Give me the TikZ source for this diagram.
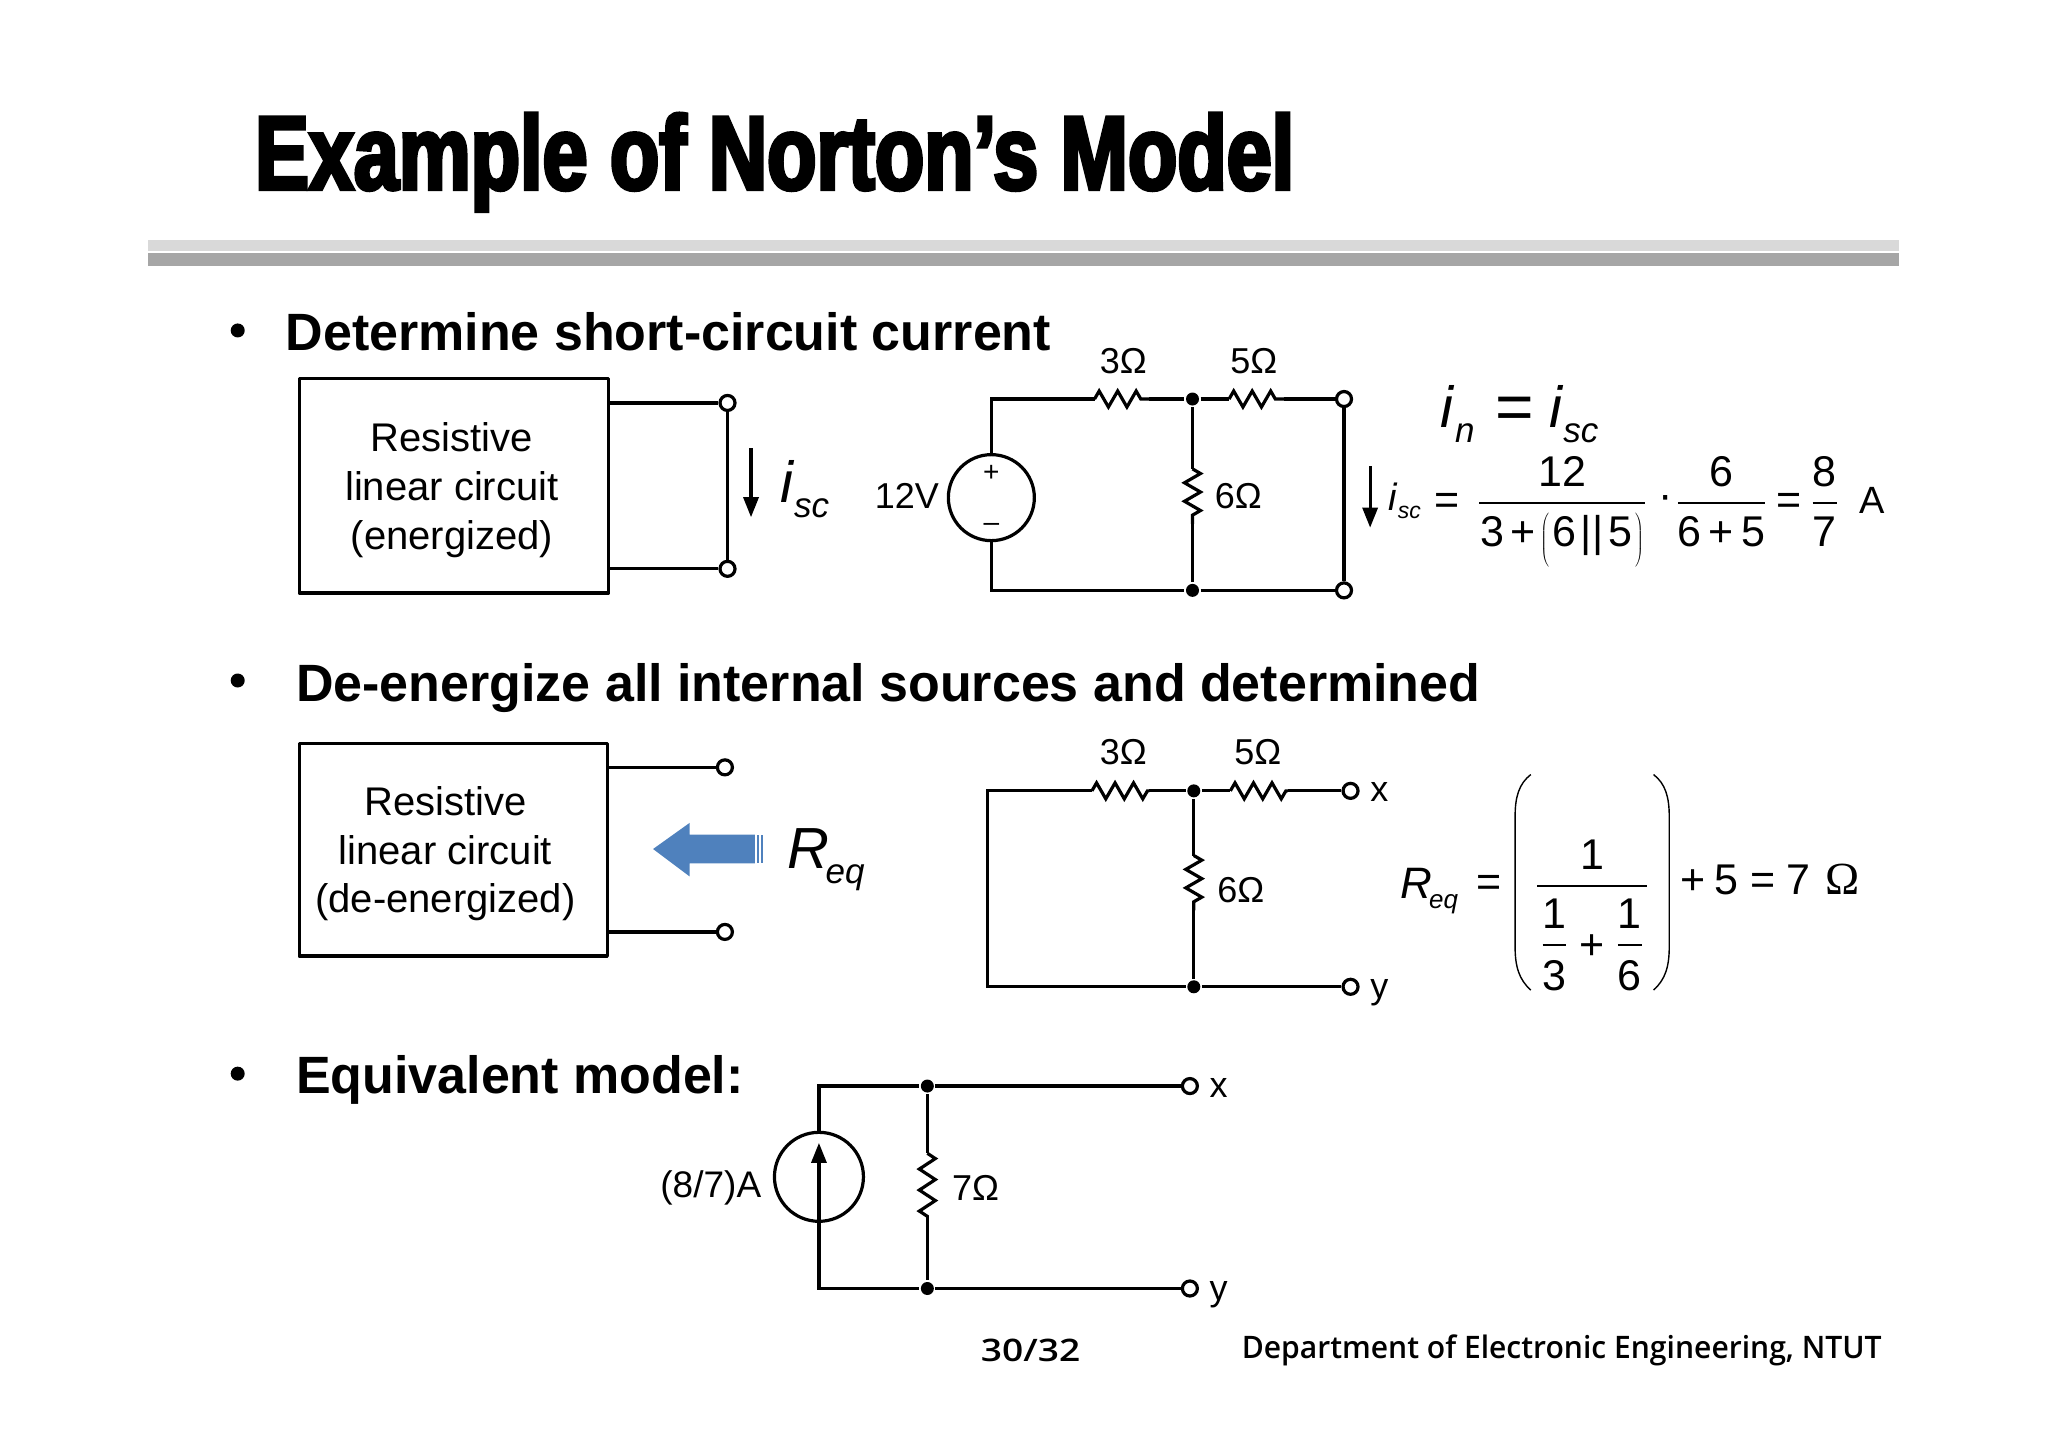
\documentclass[tikz,border=0pt]{standalone}
\usepackage{fontspec}
\setmainfont{Liberation Sans}
\newfontfamily\titlefont[FakeBold=3.5,FakeStretch=.77]{Liberation Sans Bold}
\newfontfamily\headfont[FakeStretch=.99]{Liberation Sans Bold}
\newfontfamily\footfont[FakeStretch=.97]{Open Sans Semibold}
\newfontfamily\pagefont[FakeStretch=1.2]{Open Sans Semibold}
\newfontfamily\omegafont{Liberation Serif}
\usetikzlibrary{arrows.meta,decorations.pathmorphing}
\definecolor{arrowblue}{HTML}{4F81BD}
\newdimen\upgap \upgap=14pt
\newdimen\downgap \downgap=41pt
\newcommand{\fs}[1]{\fontsize{#1}{#1}\selectfont}
\newcommand{\ratio}[3][1.6pt]{$\displaystyle\hbox{#2\vrule depth\upgap width 0pt}\above #1\hbox{\vrule height\downgap width 0pt#3}$}
\newcommand{\lowtext}[5][.02em]{{\fs{#4}\itshape #2\kern#1\lower #5pt\hbox{\fs{\the\numexpr#4*6/10\relax}#3}}}
\newcommand{\tall}[1]{$\left#1\vcenter to 58pt{}\right.\nulldelimiterspace0pt$}

\begin{document}
\begin{tikzpicture}[>={Triangle[length=20pt,width=15pt]},x=1.3061pt,y=-1.3061pt,line width=3.2pt,
  txt/.style={inner sep=0pt,anchor=base,font=\fs{40}},
  lab/.style={inner sep=0pt,anchor=base,font=\fs{36}},
  head/.style={inner sep=0pt,anchor=base west,font=\headfont\fs{52.5}},
  blt/.style={circle,fill=black,inner sep=0pt,minimum size=14pt},
  term/.style={circle,draw,fill=white,inner sep=0pt,minimum size=15pt},
  dot/.style={circle,fill=black,inner sep=0pt,minimum size=13pt},
  res/.style={decorate,decoration={zigzag,amplitude=8pt,segment length=18.5pt}},
  box/.style={draw,line join=round},
  sym/.style={inner sep=0pt,anchor=base west},
  eqfig/.style={inner sep=0pt,anchor=base,font=\fs{43}}]
\useasboundingbox (0,0) rectangle (1568,1108);
% heading
\node[inner sep=0pt,anchor=base west,font=\titlefont\fs{105}] (title) at (194,145) {Example of Norton’s Model};
\fill[black!15] (113,184) rectangle (1454,192);
\fill[black!35] (113,194) rectangle (1454,204);
% bullets
\node[blt] (b1) at (182,253) {};
\node[head] (h1) at (217.5,268) {Determine short-circuit current};
\node[blt] (b2) at (182,521) {};
\node[head] (h2) at (225.5,537) {De-energize all internal sources and determined};
\node[blt] (b3) at (182,822) {};
\node[head] (h3) at (225.5,837) {Equivalent model:};
% first box
\draw[box] (229,290) rectangle (466,454);
\node[txt] (p1) at (346,345.5) {Resistive};
\node[txt] (p2) at (346,383.5) {linear circuit};
\node[txt] (p3) at (346,420.5) {(energized)};
\coordinate (l1) at (466,308.5);
\coordinate (l2) at (466,435.5);
\node[term] (t1) at (557,308.5) {};
\node[term] (t2) at (557,435.5) {};
\draw (l1) -- (t1);
\draw (l2) -- (t2);
\draw (t1) -- (t2);
\coordinate (a1) at (575,343);
\coordinate (a2) at (575,396);
\draw[->] (a1) -- (a2);
\node[sym] (isc1) at (596,385) {\lowtext{i}{sc}{58}{15}};
% first circuit
\node[circle,draw,inner sep=0pt,minimum size=86pt] (s1) at (759,381) {};
\node[txt,font=\fs{28}] (plus) at (759,369) {+};
\node[txt,font=\fs{28}] (minus) at (759,407) {–};
\node[lab,anchor=base east] (v1) at (720,389.5) {12V};
\coordinate (ra) at (838,305.5);
\coordinate (rb) at (880,305.5);
\node[dot] (d1) at (913,305.5) {};
\coordinate (rc) at (941,305.5);
\coordinate (rd) at (983,305.5);
\node[term] (t3) at (1029,305.5) {};
\coordinate (re) at (913,359);
\coordinate (rf) at (913,401);
\node[dot] (d2) at (913,452) {};
\node[term] (t4) at (1029,452) {};
\draw (s1) |- (ra);
\draw[res] (ra) -- (rb);
\draw (rb) -- (d1) -- (rc);
\draw[res] (rc) -- (rd);
\draw (rd) -- (t3);
\draw (d1) -- (re);
\draw[res] (re) -- (rf);
\draw (rf) -- (d2);
\draw (s1) |- (d2);
\draw (d2) -- (t4);
\draw (t3) -- (t4);
\node[lab] (o1) at (860,286) {3Ω};
\node[lab] (o2) at (960,286) {5Ω};
\node[lab] (o3) at (948,389) {6Ω};
\coordinate (a3) at (1049,357);
\coordinate (a4) at (1049,404);
\draw[->] (a3) -- (a4);
% first equations
\node[sym] (isc2) at (1062,391) {\lowtext{i}{sc}{38}{8}};
\node[sym] (in) at (1102,327) {\lowtext{i}{n}{58}{15}};
\node[eqfig,font=\fs{66}] (eq1) at (1160,329) {=};
\node[sym] (isc3) at (1185,327) {\lowtext{i}{sc}{58}{15}};
\node[eqfig] (eq2) at (1108,394) {=};
\node[eqfig] (f1) at (1196,390) {\ratio{12}{\kern1pt 3\kern6pt+\kern5pt\tall(\kern3pt 6\kern5pt||\kern5pt 5\kern3pt\tall)\kern1pt}};
\node[eqfig] (cd) at (1275,390) {·};
\node[eqfig] (f2) at (1318,390) {\ratio{6}{6\,+\,5}};
\node[eqfig] (eq3) at (1370,394) {=};
\node[eqfig] (f3) at (1397,390) {\ratio{8}{7}};
\node[eqfig,font=\fs{38}] (amp) at (1433,393) {A};
% second box
\draw[box] (229,569) rectangle (465,732);
\node[txt] (q1) at (341,624.5) {Resistive};
\node[txt] (q2) at (341,661.5) {linear circuit};
\node[txt] (q3) at (341,698.5) {(de-energized)};
\coordinate (l3) at (465,587.5);
\coordinate (l4) at (465,713.5);
\node[term] (t5) at (555,587.5) {};
\node[term] (t6) at (555,713.5) {};
\draw (l3) -- (t5);
\draw (l4) -- (t6);
\fill[arrowblue] (500,650) -- (528,630) -- (528,639) -- (578,639) -- (578,661) -- (528,661) -- (528,671) -- cycle;
\fill[arrowblue] (579.5,639) rectangle (581,661);
\fill[arrowblue] (582.5,639) rectangle (584,661);
\node[sym] (req1) at (602,665) {\lowtext[-.07em]{R}{eq}{58}{15}};
% second circuit
\coordinate (c1) at (756,605.5);
\coordinate (c2) at (756,755.5);
\coordinate (rg) at (836,605.5);
\coordinate (rh) at (880,605.5);
\node[dot] (d3) at (914,605.5) {};
\coordinate (ri) at (942,605.5);
\coordinate (rj) at (986,605.5);
\node[term] (t7) at (1034,605.5) {};
\coordinate (rk) at (914,655);
\coordinate (rl) at (914,697);
\node[dot] (d4) at (914,755.5) {};
\node[term] (t8) at (1034,755.5) {};
\draw (rg) -- (c1) -- (c2) -- (d4) -- (t8);
\draw[res] (rg) -- (rh);
\draw (rh) -- (d3) -- (ri);
\draw[res] (ri) -- (rj);
\draw (rj) -- (t7);
\draw (d3) -- (rk);
\draw[res] (rk) -- (rl);
\draw (rl) -- (d4);
\node[lab] (o4) at (860,585) {3Ω};
\node[lab] (o5) at (963,585) {5Ω};
\node[lab] (o6) at (950,691) {6Ω};
\node[lab] (x1) at (1056,614) {x};
\node[lab] (y1) at (1056,764.5) {y};
% second equation
\node[sym] (req2) at (1071,688) {\lowtext[-.07em]{R}{eq}{44}{10}};
\node[eqfig] (eq4) at (1140,686) {=};
\node[eqfig] (f4) at (1219,683) {\ratio{1}{\upgap=15pt\downgap=44pt\vrule height 63pt width 0pt\kern4pt\ratio[1.2pt]{1}{3}\kern12pt\lower8pt\hbox{+}\kern12pt\ratio[1.2pt]{1}{6}\kern4pt}};
\draw[line width=1.4pt] (1172,593) .. controls (1163,600) and (1160,610) .. (1160,625) -- (1160,725) .. controls (1160,740) and (1163,750) .. (1172,758);
\draw[line width=1.4pt] (1266,593) .. controls (1275,600) and (1278,610) .. (1278,625) -- (1278,725) .. controls (1278,740) and (1275,750) .. (1266,758);
\node[eqfig] (f5) at (1296,685) {+};
\node[eqfig] (f6) at (1322,685) {5};
\node[eqfig] (eq5) at (1350,685) {=};
\node[eqfig] (f7) at (1377,685) {7};
\node[eqfig,font=\omegafont\fs{46}] (f8) at (1411,685) {Ω};
% third circuit
\node[circle,draw,inner sep=0pt,minimum size=89pt] (s2) at (627,901) {};
\node[dot] (d5) at (710,831.5) {};
\node[dot] (d6) at (710,986.5) {};
\node[term] (t9) at (911,831.5) {};
\node[term] (t10) at (911,986.5) {};
\coordinate (rm) at (710,883);
\coordinate (rn) at (710,932);
\coordinate (st) at (627,875);
\draw (s2) |- (d5);
\draw (s2) |- (d6);
\draw[->] (s2.south) -- (st);
\draw (d5) -- (t9);
\draw (d6) -- (t10);
\draw (d5) -- (rm);
\draw[res,decoration={segment length=21pt}] (rm) -- (rn);
\draw (rn) -- (d6);
\node[lab,anchor=base east,font=\fs{37}] (v2) at (584,916.5) {(8/7)A};
\node[lab] (o7) at (747,919) {7Ω};
\node[lab] (x2) at (933,840.5) {x};
\node[lab] (y2) at (933,995.5) {y};
% footer
\node[inner sep=0pt,anchor=base,font=\pagefont\fs{31}] (pg) at (789,1042) {30/32};
\node[inner sep=0pt,anchor=base west,font=\footfont\fs{31}] (dept) at (949.5,1040) {Department of Electronic Engineering, NTUT};
\end{tikzpicture}
\end{document}
